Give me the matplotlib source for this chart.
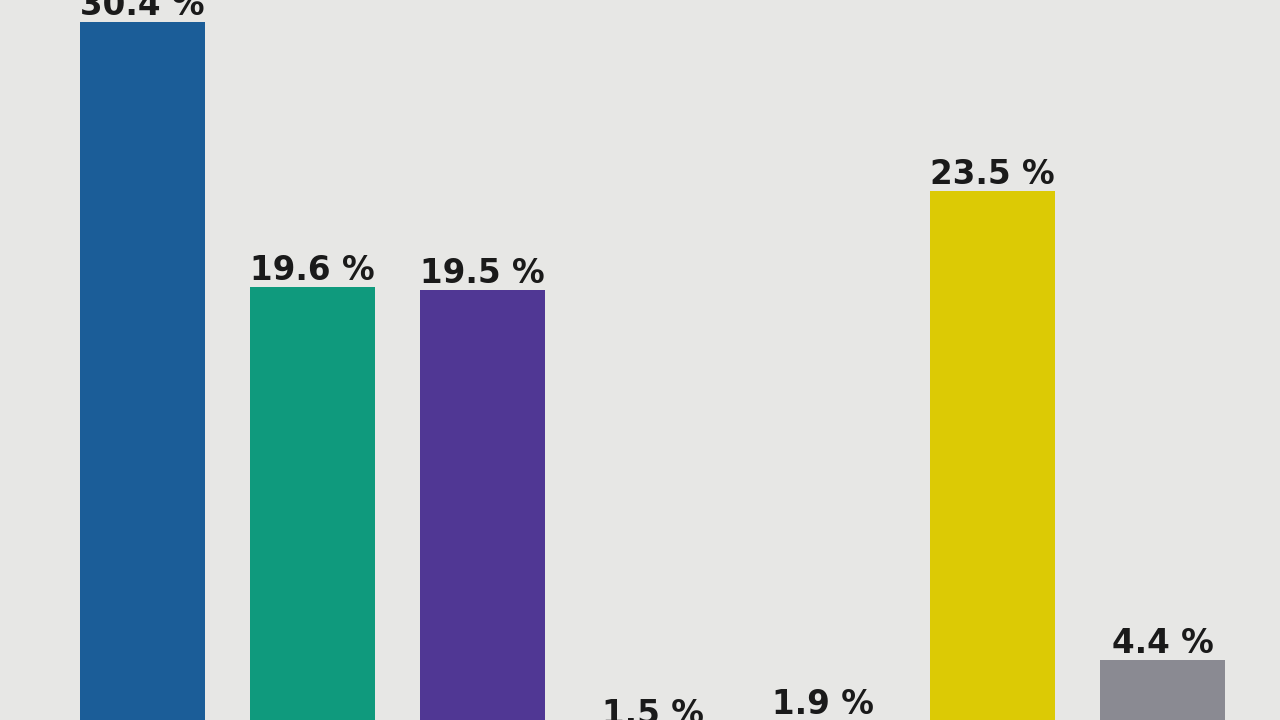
import matplotlib
matplotlib.use("Agg")
import matplotlib.pyplot as plt

categories = ["A", "B", "C", "D", "E", "F", "G"]
values = [30.4, 19.6, 19.5, 1.5, 1.9, 23.5, 4.4]
labels = ["30.4 %", "19.6 %", "19.5 %", "1.5 %", "1.9 %", "23.5 %", "4.4 %"]
colors = ["#1b5d98", "#0f9a7d", "#503794", "#1b5d98", "#0f9a7d", "#dcca05", "#8a8a92"]

fig = plt.figure(figsize=(12.8, 7.2), dpi=100)
bg = "#e7e7e5"
fig.patch.set_facecolor(bg)
ax = fig.add_axes([0, 0, 1, 1])
ax.set_facecolor(bg)

x = list(range(len(categories)))
bars = ax.bar(x, values, width=0.735, color=colors, edgecolor="none")
for xi, v, lab in zip(x, values, labels):
    ax.annotate(lab, (xi, v), xytext=(0, 0), textcoords="offset points",
                ha="center", va="bottom", fontsize=23.5, fontweight="bold",
                color="#1a1a1a", annotation_clip=False)

ax.set_xlim(-0.838, 6.69)
ax.set_ylim(1.956, 31.30)
ax.axis("off")

fig.savefig("out.png", dpi=100, facecolor=bg)
